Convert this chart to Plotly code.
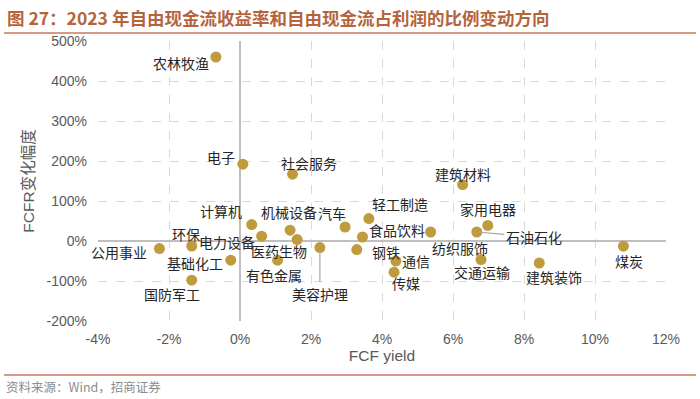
import plotly.graph_objects as go

# ---- data ----
industries = ["农林牧渔", "电子", "社会服务", "建筑材料", "计算机", "机械设备", "汽车",
              "环保", "电力设备", "公用事业", "基础化工", "国防军工", "医药生物", "有色金属",
              "美容护理", "轻工制造", "食品饮料", "钢铁", "通信", "传媒", "纺织服饰",
              "家用电器", "石油石化", "交通运输", "建筑装饰", "煤炭"]
fcf_yield = [-0.68, 0.08, 1.48, 6.27, 0.33, 1.41, 2.96,
             -1.36, 0.61, -2.27, -0.26, -1.36, 1.61, 1.06,
             2.25, 3.63, 3.45, 3.29, 4.39, 4.34, 5.37,
             6.98, 6.67, 6.79, 8.43, 10.8]
fcfr_change = [460, 192, 167, 141, 41, 27, 35,
               -12.5, 12, -19, -48, -98, 3.5, -48,
               -16.5, 56, 10, -21.5, -50, -78, 22.5,
               39, 22.5, -46.5, -55, -13]
x_ticks = [-4, -2, 0, 2, 4, 6, 8, 10, 12]
y_ticks = [-200, -100, 0, 100, 200, 300, 400, 500]

# label offsets in pixels (dx right, dy up) and leader-line flags
label_dx = [-35, -22, 16, 0, -31, -1, -13,
            -6, -35, -40, -36, -20, -18, -4,
            0, 31, 35, 29, 20, 12, 29,
            0, 57, 1, 15, 6]
label_dy = [-6, 7, 11, 11, 14, 18, 14,
            12, -6, -3, -3, -14, -11, -15,
            -46, 15, 7, -2, 0, -11, -16,
            16, -5, -12, -14, -15]
leader = {"美容护理", "石油石化"}

W, H = 700, 399
ML, MR, MT, MB = 98, 34, 41, 78
PH = H - MT - MB
PW = W - ML - MR

gold = "#BF9B3E"
grid = "#D9D9D9"
tick_col = "#595959"
cjk = "Noto Sans CJK SC"

fig = go.Figure()
fig.add_trace(go.Scatter(
    x=fcf_yield, y=fcfr_change, mode="markers",
    marker=dict(size=11, color=gold, line=dict(width=0)),
    text=industries, hoverinfo="text", showlegend=False))

for name, xv, yv, dx, dy in zip(industries, fcf_yield, fcfr_change, label_dx, label_dy):
    if name in leader:
        fig.add_annotation(x=xv, y=yv, text=name, showarrow=True, arrowhead=0,
                           arrowwidth=1.2, arrowcolor="#A6A6A6", ax=dx, ay=-dy,
                           standoff=3,
                           font=dict(family=cjk, size=14, color="#262626"))
    else:
        fig.add_annotation(x=xv, y=yv, text=name, showarrow=False,
                           xshift=dx, yshift=dy,
                           font=dict(family=cjk, size=14, color="#262626"))

def py(ypix):
    return (H - MB - ypix) / PH

def px(xpix):
    return (xpix - ML) / PW

# title
fig.add_annotation(xref="paper", yref="paper", x=px(5), y=py(17),
                   xanchor="left", yanchor="middle", showarrow=False,
                   text="<b>图 27：2023 年自由现金流收益率和自由现金流占利润的比例变动方向</b>",
                   font=dict(family=cjk, size=17.5, color="#B5643C"))
# source
fig.add_annotation(xref="paper", yref="paper", x=px(4), y=py(386),
                   xanchor="left", yanchor="middle", showarrow=False,
                   text="资料来源：Wind，招商证券",
                   font=dict(family=cjk, size=12.5, color="#8C8C8C"))
for ypix in (33, 375):
    fig.add_shape(type="line", xref="paper", yref="paper",
                  x0=px(4), x1=px(696), y0=py(ypix), y1=py(ypix),
                  line=dict(color="#C8785A", width=1.5))

fig.update_xaxes(range=[-4, 12], tickvals=x_ticks, ticktext=[f"{v}%" for v in x_ticks],
                 automargin=False,
                 showgrid=True, gridcolor=grid, griddash="dash", gridwidth=1,
                 zeroline=True, zerolinecolor="#BFBFBF", zerolinewidth=1.5,
                 showline=False, ticks="", ticklabelstandoff=8,
                 tickfont=dict(family="Liberation Sans", size=14, color=tick_col),
                 title=dict(text="FCF yield", standoff=0,
                            font=dict(family="Liberation Sans", size=15.5, color=tick_col)))
fig.update_yaxes(range=[-200, 500], tickvals=y_ticks, ticktext=[f"{v}%" for v in y_ticks],
                 automargin=False,
                 showgrid=True, gridcolor=grid, griddash="dash", gridwidth=1,
                 zeroline=True, zerolinecolor="#BFBFBF", zerolinewidth=1.5,
                 showline=False, ticks="", ticklabelstandoff=10,
                 tickfont=dict(family="Liberation Sans", size=14, color=tick_col),
                 title=dict(text="FCFR变化幅度", standoff=8,
                            font=dict(family="Liberation Sans, Noto Sans CJK SC", size=15.5, color=tick_col)))

fig.update_layout(width=W, height=H, margin=dict(l=ML, r=MR, t=MT, b=MB),
                  plot_bgcolor="white", paper_bgcolor="white")
fig.write_html("out.html", config={"displayModeBar": False},
               post_script="document.body.style.margin='0';document.body.style.overflow='hidden';")
